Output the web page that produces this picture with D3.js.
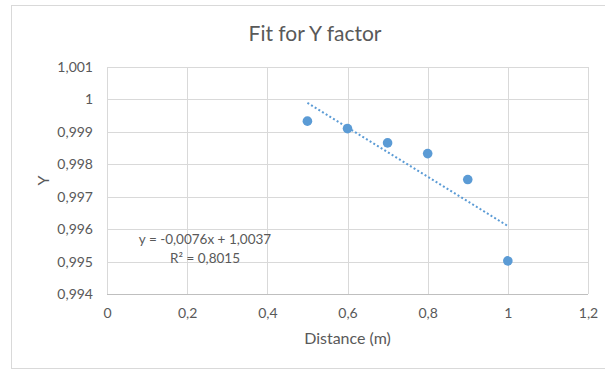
<!DOCTYPE html>
<html>
<head>
<meta charset="utf-8">
<script src="https://cdn.jsdelivr.net/npm/d3@7"></script>
<style>
  body { margin: 0; background: #fff; }
  svg text { font-family: Lato, "Open Sans", sans-serif; fill: #595959; }
</style>
</head>
<body>
<svg id="chart" width="605" height="370"></svg>
<script>
// data
const distance = [0.5, 0.6, 0.7, 0.8, 0.9, 1.0];
const yFactor = [0.99933, 0.99910, 0.99866, 0.99833, 0.99753, 0.99502];
const xTicks = [0, 0.2, 0.4, 0.6, 0.8, 1, 1.2];
const yTicks = [0.994, 0.995, 0.996, 0.997, 0.998, 0.999, 1, 1.001];
const eqLabel = "y = -0,0076x + 1,0037";
const r2Label = "R² = 0,8015";

const margin = { top: 67, right: 17, bottom: 76, left: 107 };
const svg = d3.select("#chart");
const width = +svg.attr("width") - margin.left - margin.right;
const height = +svg.attr("height") - margin.top - margin.bottom;
const blue = "#5b9bd5";
const fmt = (d) => String(+d.toFixed(3)).replace(".", ",");

// outer chart border
svg.append("rect")
    .attr("x", 11.5).attr("y", 5.5)
    .attr("width", 600).attr("height", 363)
    .attr("fill", "none").attr("stroke", "#d9d9d9");

svg.append("text")
    .attr("x", 315).attr("y", 41)
    .attr("text-anchor", "middle")
    .style("font-size", "21px")
    .text("Fit for Y factor");

const g = svg.append("g").attr("transform", `translate(${margin.left},${margin.top})`);

const x = d3.scaleLinear().domain([0, 1.2]).range([0, width]);
const y = d3.scaleLinear().domain([0.994, 1.001]).range([height, 0]);

// grid
g.append("g").selectAll("line").data(yTicks).enter().append("line")
    .attr("x1", 0).attr("x2", width)
    .attr("y1", (d) => Math.round(y(d)) + 0.5).attr("y2", (d) => Math.round(y(d)) + 0.5)
    .attr("stroke", "#d9d9d9");
g.append("g").selectAll("line").data(xTicks).enter().append("line")
    .attr("y1", 0).attr("y2", height)
    .attr("x1", (d) => Math.round(x(d)) + 0.5).attr("x2", (d) => Math.round(x(d)) + 0.5)
    .attr("stroke", "#d9d9d9");

// axes (labels only)
const xAxis = g.append("g")
    .attr("transform", `translate(0,${height})`)
    .call(d3.axisBottom(x).tickValues(xTicks).tickFormat(fmt).tickSize(0).tickPadding(14));
const yAxis = g.append("g")
    .call(d3.axisLeft(y).tickValues(yTicks).tickFormat(fmt).tickSize(0).tickPadding(14));
[xAxis, yAxis].forEach((a) => {
    a.select(".domain").remove();
    a.selectAll("text").style("font-size", "14px").attr("fill", "#595959")
        .style("font-family", "Lato, sans-serif");
});
g.append("line")
    .attr("x1", 0).attr("x2", width)
    .attr("y1", Math.round(height) + 0.5).attr("y2", Math.round(height) + 0.5)
    .attr("stroke", "#bfbfbf");

// axis titles
svg.append("text")
    .attr("x", margin.left + x(0.6)).attr("y", 344)
    .attr("text-anchor", "middle")
    .style("font-size", "16px")
    .text("Distance (m)");
svg.append("text")
    .attr("transform", `translate(49,${margin.top + height / 2}) rotate(-90)`)
    .attr("text-anchor", "middle")
    .style("font-size", "16px")
    .text("Y");

// least-squares trendline over the data range
const mx = d3.mean(distance), my = d3.mean(yFactor);
const slope = d3.sum(distance, (d, i) => (d - mx) * (yFactor[i] - my)) /
    d3.sum(distance, (d) => (d - mx) ** 2);
const icpt = my - slope * mx;
const ext = d3.extent(distance);
g.append("path")
    .datum(ext.map((d) => [d, icpt + slope * d]))
    .attr("d", d3.line().x((d) => x(d[0])).y((d) => y(d[1])))
    .attr("fill", "none")
    .attr("stroke", blue)
    .attr("stroke-width", 2)
    .attr("stroke-dasharray", "2,2.3");

// points
g.selectAll(".dot").data(distance).enter().append("circle")
    .attr("class", "dot")
    .attr("cx", (d) => x(d))
    .attr("cy", (d, i) => y(yFactor[i]))
    .attr("r", 4.8)
    .attr("fill", blue);

// trendline label
const lab = svg.append("text").attr("text-anchor", "middle").style("font-size", "13.5px");
lab.append("tspan").attr("x", 205).attr("y", 244).text(eqLabel);
lab.append("tspan").attr("x", 205).attr("y", 263).text(r2Label);
</script>
</body>
</html>
